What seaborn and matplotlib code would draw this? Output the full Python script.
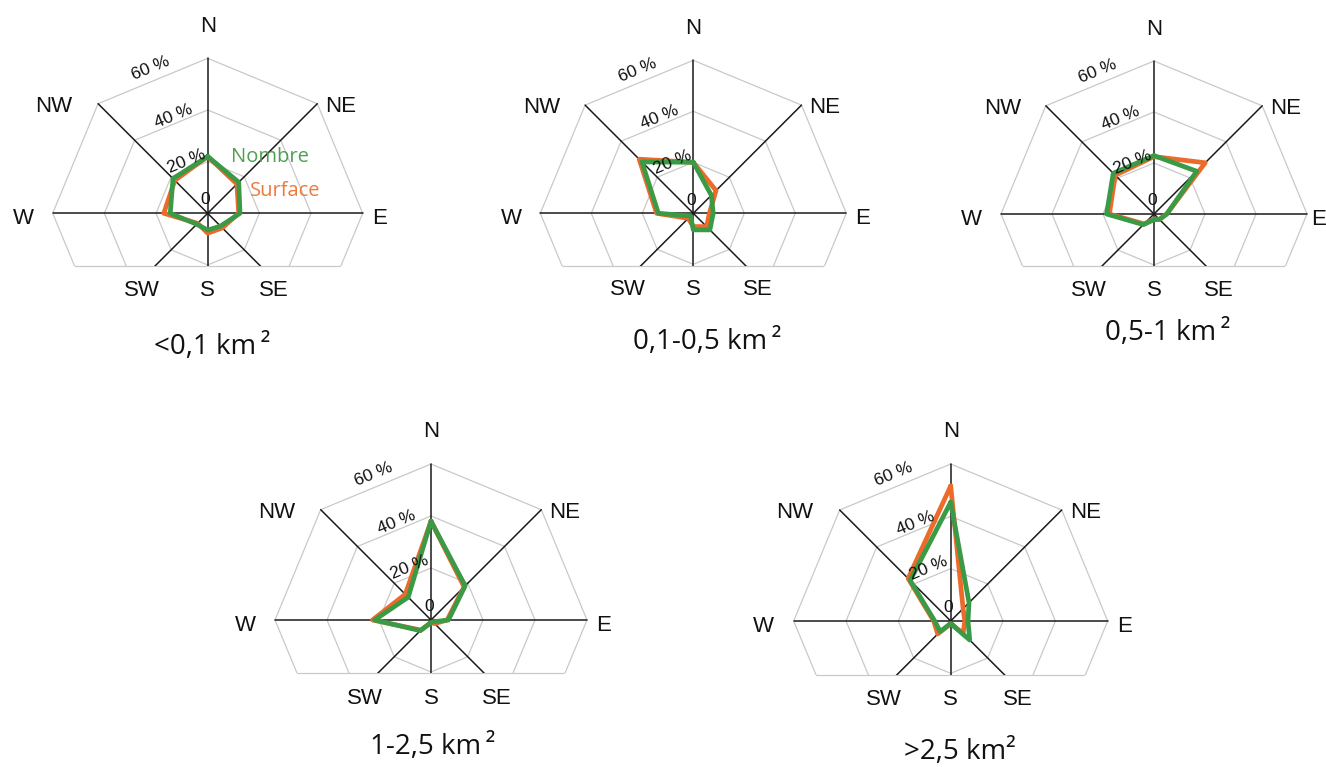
import numpy as np
import pandas as pd
import seaborn as sns
import matplotlib.pyplot as plt
from matplotlib.patches import Rectangle, Polygon

# Directions, clockwise from north
directions = ["N", "NE", "E", "SE", "S", "SW", "W", "NW"]

# Size classes (panel titles)
classes = ["<0,1 km\u2009²", "0,1-0,5 km\u2009²", "0,5-1 km\u2009²", "1-2,5 km\u2009²", ">2,5 km²"]

# Percent of lakes per direction (N, NE, E, SE, S, SW, W, NW)
nombre_lt01 = [22, 17, 12.5, 7, 6.5, 6, 14.5, 19]
surface_lt01 = [22, 16, 12, 8, 7.7, 5.5, 17, 18]

nombre_01_05 = [20, 10, 7.8, 9.2, 6.5, 1.5, 13.7, 28.5]
surface_01_05 = [20, 12.6, 6.3, 7.4, 5.2, 2.8, 14.4, 30]

nombre_05_1 = [22.9, 23.7, 5, 3, 2.2, 5.9, 18.6, 22.6]
surface_05_1 = [22.5, 28.4, 5, 3, 2, 5.5, 17.5, 21.5]

nombre_1_25 = [38, 18.6, 6.7, 1, 1, 5.8, 21.7, 12.4]
surface_1_25 = [38, 18, 6.2, 2, 1, 5.5, 22.5, 14]

nombre_gt25 = [45.4, 9.9, 6.6, 10.3, 1, 5.7, 6.1, 21.9]
surface_gt25 = [51.6, 6.7, 5.4, 6.7, 1, 7, 6.5, 23]

nombre = [nombre_lt01, nombre_01_05, nombre_05_1, nombre_1_25, nombre_gt25]
surface = [surface_lt01, surface_01_05, surface_05_1, surface_1_25, surface_gt25]

ring_levels = [20, 40, 60]

# Layout (pixels in the 1326x767 figure)
W, H = 1326, 767
centers = [(207.7, 213.3), (693.3, 213.3), (1154, 214), (431, 620), (950.7, 621)]
radius_px = [155, 153, 153, 156, 157]
title_off = [(4, 134), (14, 129), (14, 119), (2, 127), (9, 131)]
east_x = [66.5, 66.5, 64.5, 66.5, 66.5]  # third panel's E sits at the right edge
clip = 20.5  # lower half is cut off here (percent)

green = "#3a9a45"
orange = "#ec6a2a"
label_green = "#4f9e52"
label_orange = "#ee7a3c"

sns.set_style("white")
plt.rcParams["font.family"] = ["Liberation Sans", "DejaVu Sans"]

angles = np.deg2rad(np.arange(8) * 45.0)
sx, cy_ = np.sin(angles), np.cos(angles)

fig = plt.figure(figsize=(13.26, 7.67), dpi=100)

half = 230
for k in range(5):
    cx, cy = centers[k]
    R = radius_px[k]
    ax = fig.add_axes([(cx - half) / W, 1 - (cy + half) / H, 2 * half / W, 2 * half / H])
    lim = half / R * 60

    cut = Rectangle((-100, -clip), 200, 200, transform=ax.transData)

    # grey rings
    for lev in ring_levels:
        xs = np.append(lev * sx, lev * sx[0])
        ys = np.append(lev * cy_, lev * cy_[0])
        ln, = ax.plot(xs, ys, color="#c9c9c9", lw=0.9, zorder=1)
        ln.set_clip_path(cut)
    outer = Polygon(np.column_stack([60 * sx, 60 * cy_]), closed=True, transform=ax.transData)
    ln, = ax.plot([-60, 60], [-clip, -clip], color="#c9c9c9", lw=0.9, zorder=1)
    ln.set_clip_path(outer)

    # direction axes
    for i in range(8):
        ln, = ax.plot([0, 60 * sx[i]], [0, 60 * cy_[i]], color="#1a1a1a", lw=1.1, zorder=2)
        ln.set_clip_path(cut)

    # data polygons
    rows = []
    for serie, vals in (("Surface", surface[k]), ("Nombre", nombre[k])):
        v = np.array(vals + vals[:1], dtype=float)
        a = np.append(angles, angles[0])
        for j in range(9):
            rows.append({"serie": serie, "x": v[j] * np.sin(a[j]), "y": v[j] * np.cos(a[j])})
    df = pd.DataFrame(rows)
    sns.lineplot(data=df, x="x", y="y", hue="serie", hue_order=["Surface", "Nombre"],
                 palette={"Surface": orange, "Nombre": green}, sort=False, estimator=None,
                 units="serie", lw=3.4, legend=False, ax=ax, zorder=3)
    ax.set_xlim(-lim, lim)
    ax.set_ylim(-lim, lim)
    ax.set_axis_off()

    # direction labels
    lab_pos = {"N": (0, 72.5), "NE": (51.5, 41.5), "E": (east_x[k], -2), "SE": (25.5, -30),
               "S": (0, -30), "SW": (-25.5, -30), "W": (-71.5, -2), "NW": (-59.5, 41.5)}
    for d in directions:
        px, py = lab_pos[d]
        ax.text(px, py, d, ha="center", va="center", fontsize=16, color="#111111", zorder=4)

    # ring labels
    for txt, (px, py) in (("60 %", (-22, 56)), ("40 %", (-13.3, 37.5)), ("20 %", (-8.3, 20.2))):
        ax.text(px, py, txt, ha="center", va="center", fontsize=12.5, rotation=22.5,
                color="#111111", zorder=4)
    ax.text(-0.8, 5.2, "0", ha="center", va="center", fontsize=12.5, color="#111111", zorder=4)

    # panel title
    tx, ty = title_off[k]
    ax.text(tx / R * 60, -ty / R * 60, classes[k], ha="center", va="center", fontsize=20,
            family=["Open Sans", "DejaVu Sans"], color="#111111")

    if k == 0:
        ax.text(24.2, 21.9, "Nombre", ha="center", va="center", fontsize=14.5,
                family=["Open Sans", "DejaVu Sans"], color=label_green, zorder=5)
        ax.text(30, 8.7, "Surface", ha="center", va="center", fontsize=14.5,
                family=["Open Sans", "DejaVu Sans"], color=label_orange, zorder=5)

fig.savefig("out.png", dpi=100, facecolor="white")
